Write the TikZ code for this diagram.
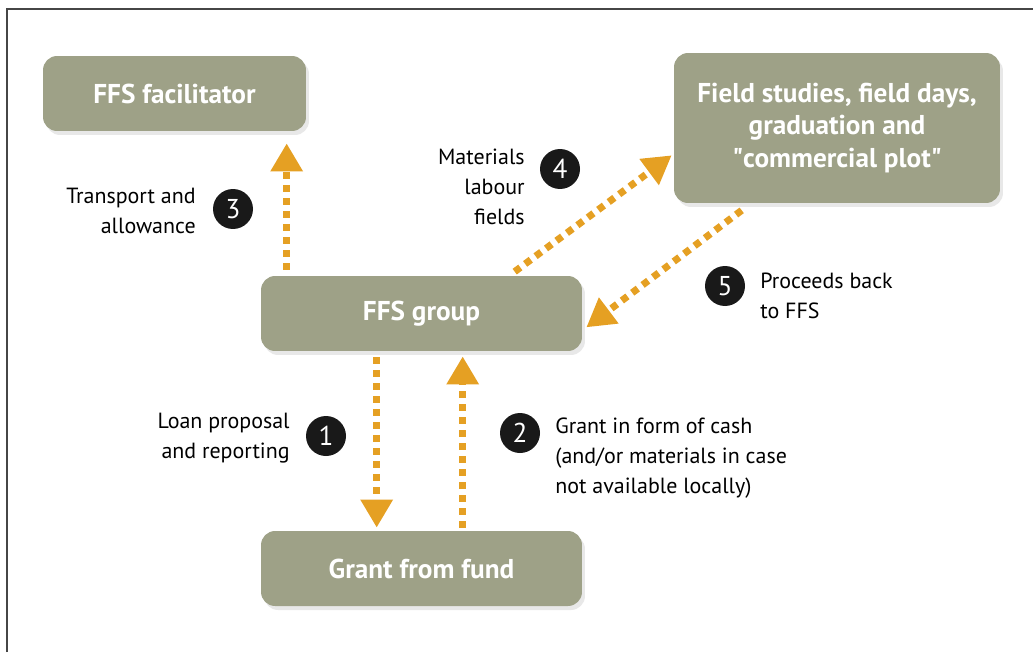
\documentclass[tikz,border=0pt]{standalone}
\usepackage{fontspec}
\setmainfont{PT Sans}
\usetikzlibrary{arrows.meta,calc,shadows}
\definecolor{boxgreen}{RGB}{158,161,135}
\definecolor{flowor}{RGB}{229,160,35}
\definecolor{framegray}{RGB}{70,70,70}

\begin{document}
\begin{tikzpicture}[x=0.02cm, y=-0.02cm,
  every node/.style={font=\fontsize{12.5}{17}\selectfont},
  box/.style={fill=boxgreen, rounded corners=0.28cm, text=white, align=center, inner sep=0pt,
    font=\fontsize{15.5}{18.7}\selectfont\bfseries,
    drop shadow={opacity=0.18, shadow xshift=0.06cm, shadow yshift=-0.08cm}},
  num/.style={circle, fill=black!90, text=white, minimum size=0.8cm, inner sep=0pt, font=\fontsize{15.5}{15.5}\selectfont},
  lab/.style={inner sep=0pt},
  flow/.style={draw=flowor, line width=4pt, dash pattern=on 4pt off 3.4pt, -{Triangle[width=17.5pt,length=16pt]}}]
	\useasboundingbox (0,0) rectangle (1033,652);
	\draw[framegray, line width=1pt] (7,652) -- (7,9) -- (1033,9);
	% boxes
	\node[box, minimum width=5.26cm, minimum height=1.5cm] (fac) at (174.5,93.5) {FFS facilitator};
	\node[box, minimum width=6.52cm, minimum height=3cm] (fld) at (837,128) {Field studies, field days,\\graduation and\\\textquotedbl commercial plot\textquotedbl};
	\node[box, minimum width=6.42cm, minimum height=1.5cm] (grp) at (421.5,313.5) {FFS group};
	\node[box, minimum width=6.42cm, minimum height=1.5cm] (grant) at (421.5,568.5) {Grant from fund};
	% flows
	\draw[flow] ($(grp.south west)+(116,6)$) coordinate (a1) -- ($(a1 |- grant.north)+(0,-3)$);
	\draw[flow] ($(grant.north west)+(202,-3)$) coordinate (a2) -- ($(a2 |- grp.south)+(0,5)$);
	\draw[flow] ($(grp.north west)+(26,-6)$) coordinate (a3) -- ($(a3 |- fac.south)+(0,12)$);
	\draw[flow] ($(grp.north west)+(254,-4)$) -- ($(fld.south west)+(-2,-48)$);
	\draw[flow] ($(fld.south west)+(68,7)$) -- ($(grp.south east)+(4,-24)$);
	% numbers
	\foreach \n/\x/\y in {1/326/436, 2/520/433, 3/233/209, 4/560/169, 5/725/286}
		\node[num] (n\n) at (\x,\y) {\n};
	% labels
	\node[lab, anchor=east, align=right] (l1) at (290,438) {Loan proposal\\and reporting};
	\node[lab, anchor=west, align=left] (l2) at (555,458) {Grant in form of cash\\(and/or materials in case\\not available locally)};
	\node[lab, anchor=east, align=right] (l3) at (196,211) {Transport and\\allowance};
	\node[lab, anchor=east, align=right] (l4) at (525,187) {Materials\\labour\\fields};
	\node[lab, anchor=west, align=left] (l5) at (760,296) {Proceeds back\\to FFS};
\end{tikzpicture}
\end{document}
